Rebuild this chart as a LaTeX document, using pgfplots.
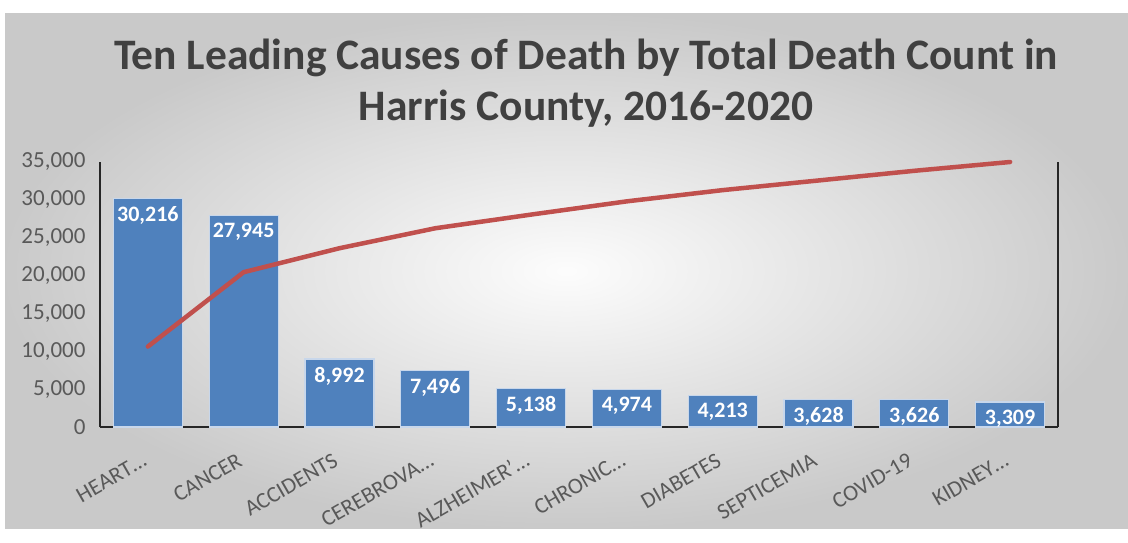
\documentclass[border=0pt]{standalone}
\usepackage{fontspec}
\setmainfont{Carlito}
\usepackage{pgfplots}
\pgfplotsset{compat=1.18}
\definecolor{barblue}{RGB}{79,129,189}
\definecolor{baredge}{RGB}{200,215,235}
\definecolor{linered}{RGB}{192,80,77}
\definecolor{tickgray}{RGB}{89,89,89}
\definecolor{titlegray}{RGB}{64,64,64}
\definecolor{axisdark}{RGB}{38,38,38}
\begin{document}
\begin{tikzpicture}
\path[use as bounding box] (0,0) rectangle (1128pt,542pt);
\fill[white] (0,0) rectangle (1128pt,542pt);
\shade[inner color=gray!2, outer color=gray!42] (5pt,14pt) rectangle (1128pt,528pt);
\node[font=\fontsize{43.5}{51}\selectfont\bfseries, text=titlegray, align=center] at (586pt,459pt)
  {Ten Leading Causes of Death by Total Death Count in\\Harris County, 2016-2020};
\begin{axis}[
  at={(100pt,115pt)}, anchor=south west, scale only axis,
  width=958pt, height=265pt,
  xmin=-0.5, xmax=9.5, ymin=0, ymax=35000,
  clip=false,
  axis x line*=bottom, axis y line*=left,
  axis line style={axisdark, line width=2.5pt},
  major tick length=0pt,
  scaled y ticks=false,
  ytick={0,5000,10000,15000,20000,25000,30000,35000},
  /pgf/number format/1000 sep={,},
  /pgf/number format/assume math mode=true,
  yticklabel style={font=\fontsize{23}{25}\selectfont, text=tickgray, xshift=-11pt},
  xtick={0,1,2,3,4,5,6,7,8,9},
  xticklabels={HEART…,CANCER,ACCIDENTS,CEREBROVA…,ALZHEIMER'…,CHRONIC…,DIABETES,SEPTICEMIA,COVID-19,KIDNEY…},
  xticklabel shift=38pt,
  xticklabel style={rotate=30, anchor=base east, font=\fontsize{22.5}{24}\selectfont, text=tickgray, inner sep=0pt},
]
\addplot[ybar, bar width=69pt, fill=barblue, draw=baredge, line width=1.2pt,
  nodes near coords,
  nodes near coords style={anchor=north, font=\bfseries\fontsize{22}{24}\selectfont, text=white, yshift=-4pt}]
  coordinates {(0,30216) (1,27945) (2,8992) (3,7496) (4,5138) (5,4974) (6,4213) (7,3628) (8,3626) (9,3309)};
\addplot[linered, line width=4.5pt, line cap=round, line join=round, mark=none]
  coordinates {(0,10625) (1,20451) (2,23613) (3,26249) (4,28055) (5,29804) (6,31286) (7,32561) (8,33837) (9,35000)};
\draw[axisdark, line width=2.5pt] (rel axis cs:1,0) -- (rel axis cs:1,1);
\end{axis}
\end{tikzpicture}
\end{document}
